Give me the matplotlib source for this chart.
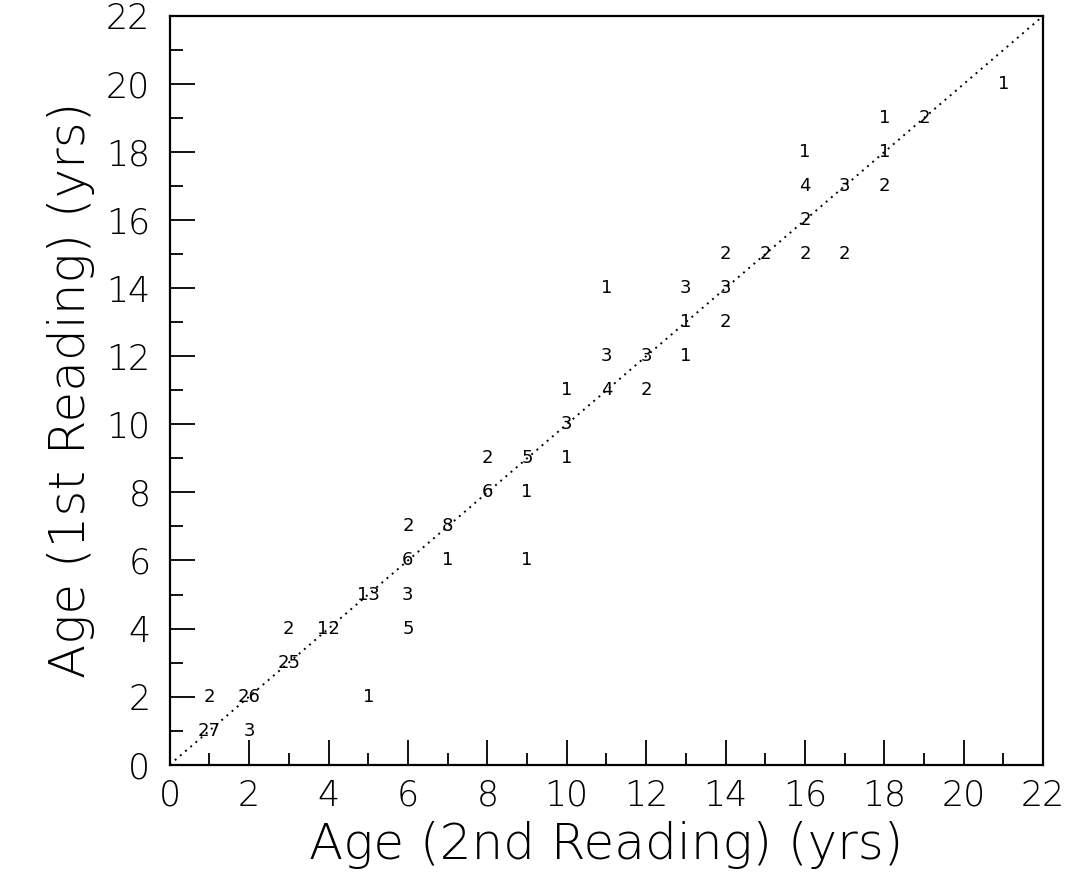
import matplotlib.pyplot as plt
import numpy as np

# age pairs (2nd reading, 1st reading) and number of fish at each pair
age_2nd = [1, 2, 1, 2, 5, 3, 3, 4, 6, 5, 6, 6, 7, 9, 6, 7, 8, 9, 8, 9, 10,
           10, 10, 11, 12, 11, 12, 13, 13, 14, 11, 13, 14, 14, 15, 16, 17,
           16, 16, 17, 18, 16, 18, 18, 19, 21]
age_1st = [1, 1, 2, 2, 2, 3, 4, 4, 4, 5, 5, 6, 6, 6, 7, 7, 8, 8, 9, 9, 9,
           10, 11, 11, 11, 12, 12, 12, 13, 13, 14, 14, 14, 15, 15, 15, 15,
           16, 17, 17, 17, 18, 18, 19, 19, 20]
counts = [27, 3, 2, 26, 1, 25, 2, 12, 5, 13, 3, 6, 1, 1, 2, 8, 6, 1, 2, 5, 1,
          3, 1, 4, 2, 3, 3, 1, 1, 2, 1, 3, 3, 2, 2, 2, 2,
          2, 4, 3, 2, 1, 1, 1, 2, 1]

ticks_major = np.arange(0, 23, 2)
ticks_minor = np.arange(0, 23, 1)

plt.rcParams['font.family'] = ['DejaVu Sans']

fig = plt.figure(figsize=(10.81, 8.82), dpi=100)
ax = fig.add_axes([0.157, 0.133, 0.808, 0.849])

# 1:1 line
ax.plot([0, 22], [0, 22], color='black', linestyle=(0, (1, 2.5)), linewidth=1.4)

for x, y, n in zip(age_2nd, age_1st, counts):
    ax.text(x, y, str(n), ha='center', va='center', fontsize=13, color='black')

ax.set_xlim(0, 22)
ax.set_ylim(0, 22)
ax.set_xticks(ticks_major)
ax.set_yticks(ticks_major)
ax.set_xticks(ticks_minor, minor=True)
ax.set_yticks(ticks_minor, minor=True)
ax.tick_params(which='major', direction='in', length=18, width=1.3,
               labelsize=25, pad=10)
ax.tick_params(which='minor', direction='in', length=9, width=1.3)
ax.tick_params(axis='y', pad=14)
for lbl in ax.get_xticklabels() + ax.get_yticklabels():
    lbl.set_fontweight('light')

for s in ax.spines.values():
    s.set_linewidth(1.6)

ax.set_xlabel('Age (2nd Reading) (yrs)', fontsize=36, fontweight='light', labelpad=6)
ax.set_ylabel('Age (1st Reading) (yrs)', fontsize=36, fontweight='light', labelpad=8)

fig.savefig('out.png', dpi=100)
